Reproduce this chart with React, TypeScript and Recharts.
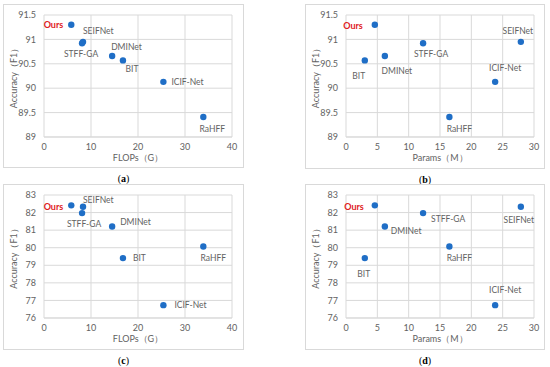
import React from "react";
import { ScatterChart, Scatter, XAxis, YAxis, CartesianGrid } from "recharts";

// Models compared in all four panels, same order in every array.
const MODELS = ["Ours", "SEIFNet", "STFF-GA", "DMINet", "BIT", "ICIF-Net", "RaHFF"];
const FLOPS_G = [5.8, 8.3, 8.1, 14.5, 16.8, 25.4, 33.9];
const PARAMS_M = [4.6, 27.9, 12.3, 6.2, 3.0, 23.8, 16.5];
const F1_TOP = [91.3, 90.95, 90.92, 90.66, 90.57, 90.13, 89.41];
const F1_BOTTOM = [82.41, 82.33, 81.97, 81.21, 79.41, 76.73, 80.07];

const TICKS_FLOPS = [0, 10, 20, 30, 40];
const TICKS_PARAMS = [0, 5, 10, 15, 20, 25, 30];
const TICKS_F1_TOP = [89, 89.5, 90, 90.5, 91, 91.5];
const TICKS_F1_BOTTOM = [76, 77, 78, 79, 80, 81, 82, 83];

// Chart chrome, Excel-ish greys.
const DOT = "#1f6ec6";
const OURS = "#e0201c";
const GRID = "#d9d9d9";
const INK = "#626262";
const FONT = "Lato, 'Liberation Sans', sans-serif";

// Where each point's name sits relative to its dot: [dx, dy, anchor].
type Place = [number, number, "start" | "middle" | "end"];
const PLACE_A: Record<string, Place> = {
  Ours: [-8, 0, "end"],
  SEIFNet: [0, -11, "start"],
  "STFF-GA": [-1, 11, "middle"],
  DMINet: [-1, -9, "start"],
  BIT: [9, 9, "middle"],
  "ICIF-Net": [8, 0, "start"],
  RaHFF: [9, 12, "middle"],
};
const PLACE_B: Record<string, Place> = {
  Ours: [-12, 1, "end"],
  BIT: [-6, 16, "middle"],
  DMINet: [12, 15, "middle"],
  "STFF-GA": [8, 11, "middle"],
  RaHFF: [10, 12, "middle"],
  "ICIF-Net": [10, -14, "middle"],
  SEIFNet: [-3, -11, "middle"],
};
const PLACE_C: Record<string, Place> = {
  Ours: [-8, 1, "end"],
  SEIFNet: [0, -7, "start"],
  "STFF-GA": [2, 11, "middle"],
  DMINet: [8, -4, "start"],
  BIT: [10, 0, "start"],
  RaHFF: [10, 12, "middle"],
  "ICIF-Net": [11, 0, "start"],
};
const PLACE_D: Record<string, Place> = {
  Ours: [-11, 1, "end"],
  "STFF-GA": [8, 6, "start"],
  SEIFNet: [-2, 13, "middle"],
  DMINet: [6, 5, "start"],
  RaHFF: [10, 12, "middle"],
  BIT: [-1, 16, "middle"],
  "ICIF-Net": [10, -15, "middle"],
};

type Point = { name: string; x: number; y: number };

function build(xs: number[], ys: number[]): Point[] {
  return MODELS.map((name, i) => ({ name, x: xs[i], y: ys[i] }));
}

function fmt(v: number) {
  return String(v);
}

function Panel({
  box,
  plot,
  data,
  xTicks,
  yTicks,
  xTitle,
  place,
  caption,
}: {
  box: [number, number, number, number];
  plot: [number, number, number, number];
  data: Point[];
  xTicks: number[];
  yTicks: number[];
  xTitle: string;
  place: Record<string, Place>;
  caption: string;
}) {
  const [bl, bt, bw, bh] = box;
  const [pl, pt, pr, pb] = plot;
  const ox = bl + 1;
  const oy = bt + 1;
  const cw = bw - 2;
  const ch = bh - 2;
  const yW = 30;
  const xH = 28;
  const margin = {
    left: pl - ox - yW,
    top: pt - oy,
    right: ox + cw - pr,
    bottom: oy + ch - pb - xH,
  };
  const yTitleDx = bl + 11 - (ox + margin.left + yW / 2);
  const xTitleDy = 21 - xH / 2;

  const shape = (props: any) => {
    const { cx, cy, payload } = props;
    const [dx, dy, anchor] = place[payload.name];
    const ours = payload.name === "Ours";
    return (
      <g>
        <circle cx={cx} cy={cy} r={3.2} fill={DOT} />
        <text
          x={cx + dx}
          y={cy + dy}
          dy="0.35em"
          textAnchor={anchor}
          fontSize={ours ? 9 : 8.5}
          fontWeight={ours ? 700 : 400}
          fill={ours ? OURS : INK}
          fontFamily={FONT}
        >
          {payload.name}
        </text>
      </g>
    );
  };

  return (
    <>
      <div
        style={{
          position: "absolute",
          left: bl,
          top: bt,
          width: bw,
          height: bh,
          boxSizing: "border-box",
          border: `1px solid ${GRID}`,
          background: "#fff",
        }}
      >
        <ScatterChart width={cw} height={ch} margin={margin}>
          <CartesianGrid stroke={GRID} strokeWidth={1} />
          <XAxis
            type="number"
            dataKey="x"
            domain={[xTicks[0], xTicks[xTicks.length - 1]]}
            ticks={xTicks}
            height={xH}
            axisLine={{ stroke: GRID }}
            tickLine={false}
            tickSize={6}
            tickMargin={1}
            tick={{ fill: INK, fontSize: 9, fontFamily: FONT }}
            interval={0}
            label={{
              value: xTitle,
              position: "center",
              dy: xTitleDy,
              fill: INK,
              fontSize: 9,
              fontFamily: FONT,
            }}
          />
          <YAxis
            type="number"
            dataKey="y"
            domain={[yTicks[0], yTicks[yTicks.length - 1]]}
            ticks={yTicks}
            width={yW}
            axisLine={false}
            tickLine={false}
            tickSize={6}
            tickMargin={2}
            tickFormatter={fmt}
            tick={{ fill: INK, fontSize: 9, fontFamily: FONT }}
            interval={0}
            label={{
              value: "Accuracy（F1）",
              angle: -90,
              position: "center",
              dx: yTitleDx,
              fill: INK,
              fontSize: 9,
              fontFamily: FONT,
            }}
          />
          <Scatter data={data} shape={shape} isAnimationActive={false} />
        </ScatterChart>
      </div>
      <div
        style={{
          position: "absolute",
          left: (bl + bw / 2) - 20,
          width: 40,
          top: bt + bh + 5,
          textAlign: "center",
          fontFamily: "'Liberation Serif', serif",
          fontSize: 10,
          lineHeight: "12px",
          color: "#000",
        }}
      >
        (<b>{caption}</b>)
      </div>
    </>
  );
}

export default function App() {
  return (
    <div
      style={{
        position: "absolute",
        left: 0,
        top: 0,
        width: 550,
        height: 367,
        background: "#fff",
      }}
    >
      <Panel
        box={[3, 4, 241, 164]}
        plot={[44, 15, 232, 137]}
        data={build(FLOPS_G, F1_TOP)}
        xTicks={TICKS_FLOPS}
        yTicks={TICKS_F1_TOP}
        xTitle="FLOPs（G）"
        place={PLACE_A}
        caption="a"
      />
      <Panel
        box={[305, 4, 240, 165]}
        plot={[346, 15, 534, 137]}
        data={build(PARAMS_M, F1_TOP)}
        xTicks={TICKS_PARAMS}
        yTicks={TICKS_F1_TOP}
        xTitle="Params（M）"
        place={PLACE_B}
        caption="b"
      />
      <Panel
        box={[3, 184, 241, 166]}
        plot={[44, 195, 232, 318]}
        data={build(FLOPS_G, F1_BOTTOM)}
        xTicks={TICKS_FLOPS}
        yTicks={TICKS_F1_BOTTOM}
        xTitle="FLOPs（G）"
        place={PLACE_C}
        caption="c"
      />
      <Panel
        box={[305, 184, 240, 166]}
        plot={[346, 195, 534, 318]}
        data={build(PARAMS_M, F1_BOTTOM)}
        xTicks={TICKS_PARAMS}
        yTicks={TICKS_F1_BOTTOM}
        xTitle="Params（M）"
        place={PLACE_D}
        caption="d"
      />
    </div>
  );
}
